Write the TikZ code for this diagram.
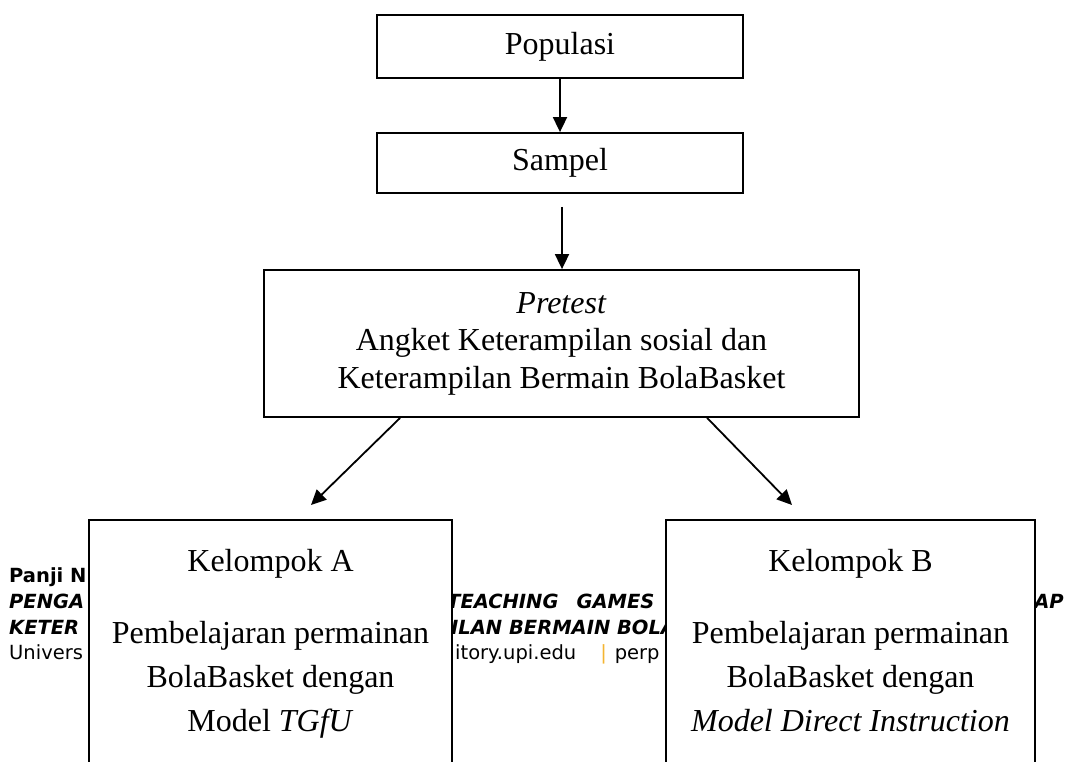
\documentclass[tikz,border=0pt]{standalone}
\usepackage{fontspec}
\setmainfont{Liberation Serif}
\newfontfamily\footfont{DejaVu Sans}
\usetikzlibrary{arrows.meta,calc}
\definecolor{barc}{HTML}{F4B531}
\begin{document}
\begin{tikzpicture}[x=1pt,y=-1pt,
  box/.style={draw=black,line width=1.8pt,fill=white,inner sep=0pt,
    font=\fontsize{32}{37.5}\selectfont,align=center},
  arr/.style={-{Triangle[length=15pt,width=14pt]},line width=1.8pt},
  btext/.style={font=\fontsize{32}{44}\selectfont,align=center,inner sep=0pt,anchor=north},
  foot/.style={font=\footfont\fontsize{19.5}{22}\selectfont,inner sep=0pt,anchor=base west},
  footb/.style={font=\footfont\bfseries\fontsize{19.5}{22}\selectfont,inner sep=0pt,anchor=base west},
  footbi/.style={font=\footfont\bfseries\itshape\fontsize{19.5}{22}\selectfont,inner sep=0pt,anchor=base west}]
\useasboundingbox (0,0) rectangle (1073,762);
\clip (0,0) rectangle (1073,762);
% footer text behind the boxes
\node[footb]  (f1) at (9,582) {Panji N};
\node[footbi] (f2) at (9,608) {PENGA};
\node[footbi] (f2b) at (447,608) {TEACHING\hspace{18pt}GAMES};
\node[footbi] (f2c) at (1018,608) {DAP};
\node[footbi] (f3) at (9,634) {KETER};
\node[footbi] (f3b) at (451,634) {ILAN BERMAIN BOLA};
\node[foot]   (f4) at (9,659) {Univers};
\node[foot]   (f4b) at (455,659) {itory.upi.edu\hspace{24pt}{\color{barc}|}\hspace{8pt}perp};
% boxes
\node[box,minimum width=366pt,minimum height=63pt] (pop) at (560,46.5) {Populasi};
\node[box,minimum width=366pt,minimum height=60pt] (samp) at (560,163) {Sampel};
\node[box,minimum width=595pt,minimum height=147pt] (pre) at (561.5,343.5)
  {\textit{Pretest}\\Angket Keterampilan sosial dan\\Keterampilan Bermain BolaBasket};
\node[box,minimum width=363pt,minimum height=300pt,anchor=north] (ka) at (270.5,519) {};
\node[box,minimum width=369pt,minimum height=300pt,anchor=north] (kb) at (850.5,519) {};
\node[btext] (kat) at ($(ka.north)+(0,30)$)
  {Kelompok A\\[28pt]Pembelajaran permainan\\BolaBasket dengan\\Model \textit{TGfU}};
\node[btext] (kbt) at ($(kb.north)+(0,30)$)
  {Kelompok B\\[28pt]Pembelajaran permainan\\BolaBasket dengan\\\textit{Model Direct Instruction}};
% connectors
\draw[arr] (pop) -- (samp);
\coordinate (s2) at (562,207);
\draw[arr] (s2) -- (s2 |- pre.north);
\coordinate (ta) at (311,505);
\coordinate (tb) at (792,505);
\draw[arr] ($(pre.south west)+(137,0)$) -- (ta);
\draw[arr] ($(pre.south west)+(444,0)$) -- (tb);
\end{tikzpicture}
\end{document}
